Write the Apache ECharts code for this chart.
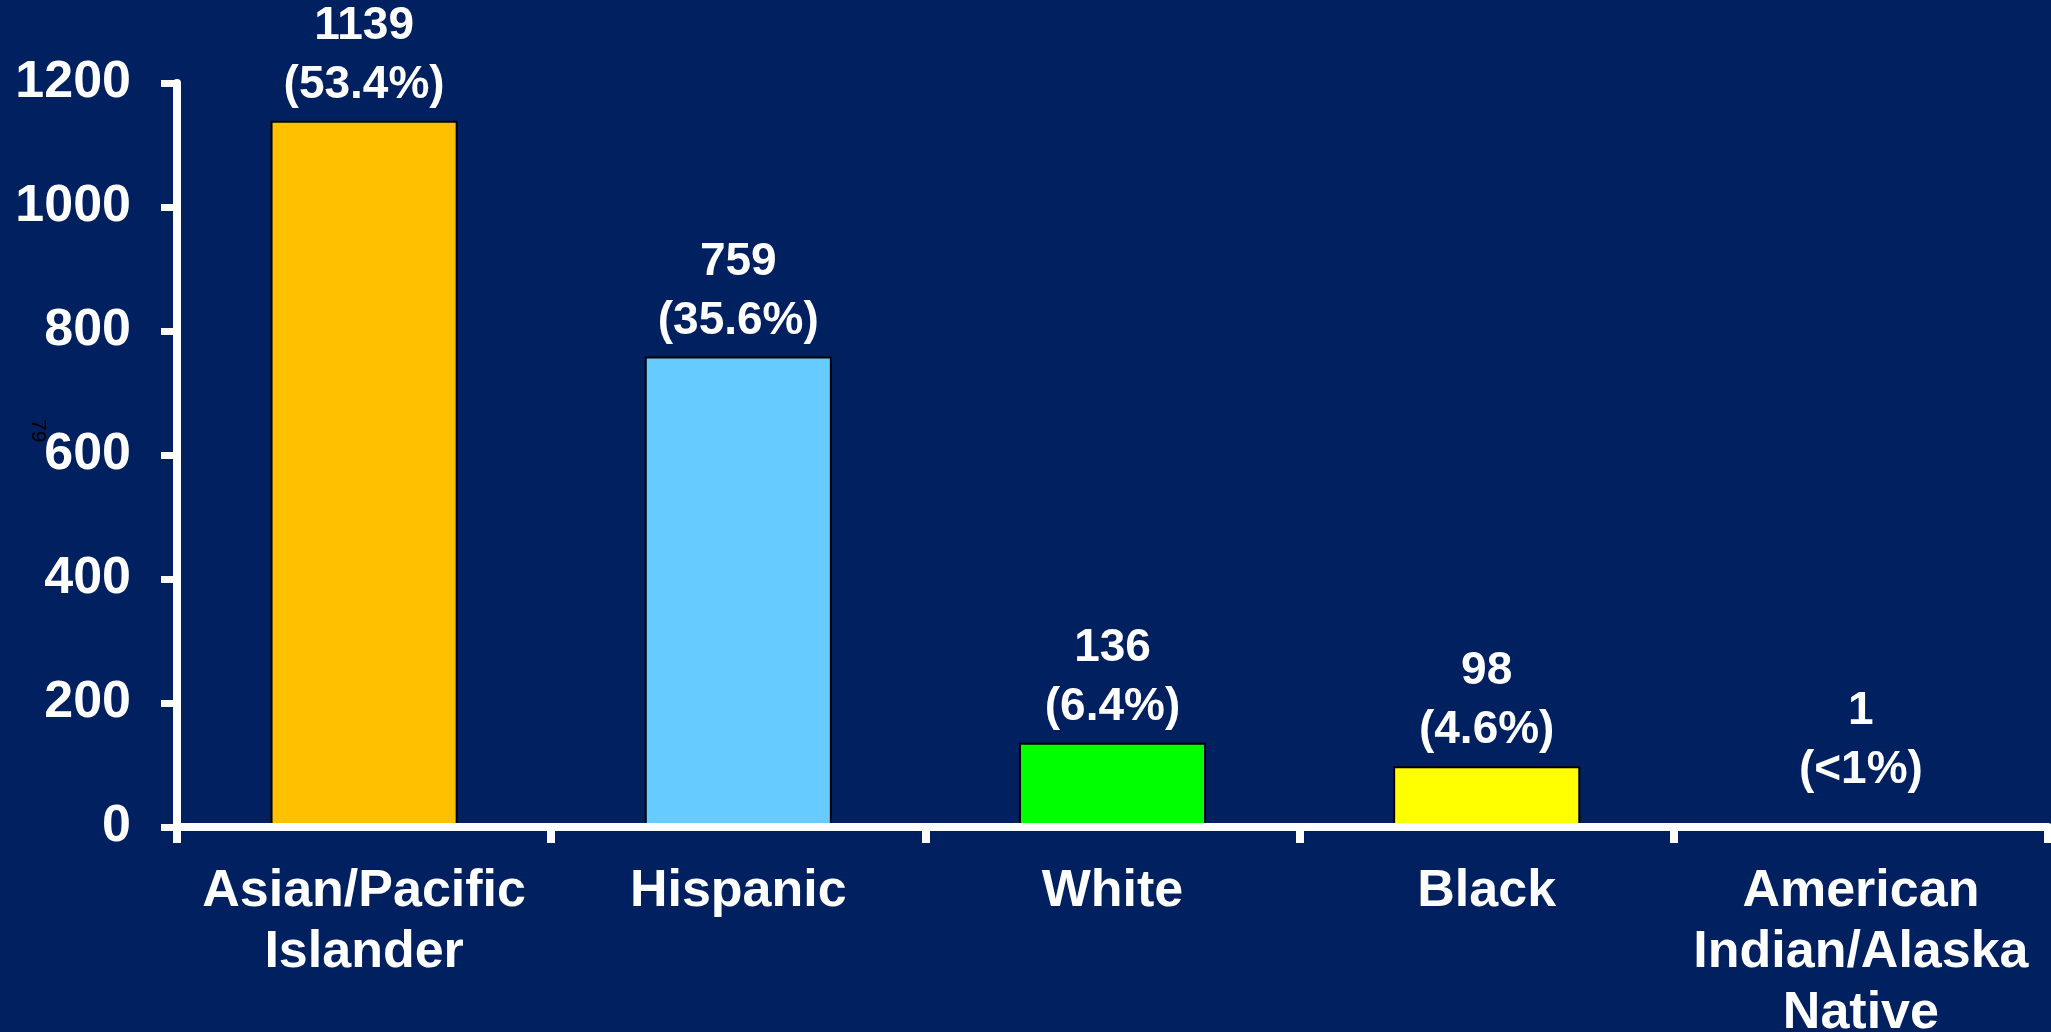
<!DOCTYPE html>
<html>
<head>
<meta charset="utf-8">
<script src="https://cdn.jsdelivr.net/npm/echarts@6/dist/echarts.min.js"></script>
<style>
  html, body { margin: 0; padding: 0; background: #002060; }
  #chart { width: 2051px; height: 1032px; }
</style>
</head>
<body>
<div id="chart"></div>
<script>
const categories = ['Asian/Pacific\nIslander', 'Hispanic', 'White', 'Black', 'American\nIndian/Alaska\nNative'];
const values = [1139, 759, 136, 98, 1];
const percents = ['53.4%', '35.6%', '6.4%', '4.6%', '<1%'];
const barColors = ['#FFC000', '#66CCFF', '#00FF00', '#FFFF00', '#FF0000'];
const yTicks = { min: 0, max: 1200, interval: 200 };

const FONT = '"Liberation Sans", Arial, sans-serif';
const chart = echarts.init(document.getElementById('chart'), null, { renderer: 'canvas' });

chart.setOption({
  backgroundColor: '#002060',
  animation: false,
  grid: { left: 177, right: 3, top: 83, bottom: 205, containLabel: false, outerBoundsMode: 'none' },
  graphic: [{
    type: 'text', left: 27, top: 419, rotation: -Math.PI / 2,
    style: { text: '79', fill: '#000000', font: '21px ' + FONT }
  }],
  xAxis: {
    type: 'category',
    data: categories,
    z: 5,
    axisLine: { lineStyle: { color: '#FFFFFF', width: 8 } },
    axisTick: { show: true, length: 16, lineStyle: { color: '#FFFFFF', width: 8 } },
    axisLabel: { color: '#FFFFFF', fontFamily: FONT, fontWeight: 'bold', fontSize: 52, lineHeight: 61, margin: 34, interval: 0 },
    splitLine: { show: false }
  },
  yAxis: {
    type: 'value',
    min: yTicks.min, max: yTicks.max, interval: yTicks.interval,
    z: 5,
    axisLine: { show: true, lineStyle: { color: '#FFFFFF', width: 8 } },
    axisTick: { show: true, length: 16, lineStyle: { color: '#FFFFFF', width: 7 } },
    axisLabel: { color: '#FFFFFF', fontFamily: FONT, fontWeight: 'bold', fontSize: 52, margin: 46,
                 formatter: v => String(v) },
    splitLine: { show: false }
  },
  series: [{
    type: 'bar',
    z: 2,
    barWidth: '50%',
    data: values.map((v, i) => ({
      value: v,
      itemStyle: { color: barColors[i] },
      label: i === values.length - 1 ? { distance: 26 } : undefined
    })),
    itemStyle: { borderColor: '#000000', borderWidth: 2 },
    label: {
      show: true, position: 'top', distance: 6,
      color: '#FFFFFF', fontFamily: FONT, fontWeight: 'bold', fontSize: 46, lineHeight: 59,
      formatter: p => p.value + '\n(' + percents[p.dataIndex] + ')'
    }
  }]
});
</script>
</body>
</html>
